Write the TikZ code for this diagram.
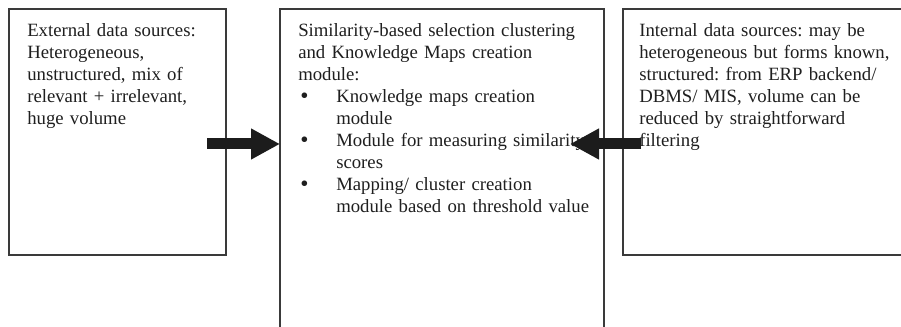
\documentclass[tikz,border=0pt]{standalone}
\usepackage{fontspec}
\setmainfont{Liberation Serif}
\usetikzlibrary{arrows.meta}
\definecolor{boxgray}{HTML}{3A3A3A}
\definecolor{arrowblack}{HTML}{1C1C1C}
\newcommand\mybullet{\makebox[28.5pt][l]{\hspace{1.5pt}\raisebox{-0.3pt}{\scalebox{1.25}{\textbullet}}}}
\frenchspacing
\begin{document}
\begin{tikzpicture}[x=0.75pt,y=-0.75pt,
  frame/.style={draw=boxgray, line width=0.9pt, anchor=north west, inner sep=0pt, outer sep=0pt},
  txt/.style={anchor=base west, inner sep=0pt, align=left, text=black!88,
              font=\fontsize{14.05}{16.5}\selectfont},
  blockarrow/.style={draw=arrowblack, line width=8.25pt,
              -{Triangle[length=21.75pt,width=21.75pt]}}]
\useasboundingbox (0,0) rectangle (901,327);
\clip (0,0) rectangle (901,327);
\fill[white] (0,0) rectangle (901,327);
% boxes
\node (ext) [frame, minimum width=162.75pt, minimum height=184.5pt] at (9,9) {};
\node (mid) [frame, minimum width=243pt, minimum height=250pt] at (280,9) {};
\node (int) [frame, minimum width=216pt, minimum height=184.5pt] at (623,9) {};
% texts
\node (extt) [txt, text width=170pt] at (27,37) {External data sources:\\
Heterogeneous,\\
unstructured, mix of\\
relevant + irrelevant,\\
huge volume};
\node (midt) [txt, text width=240pt] at (298,37) {Similarity-based selection clustering\\
and Knowledge Maps creation\\
module:\\
\mybullet Knowledge maps creation\\
\hspace*{28.5pt}module\\
\mybullet Module for measuring similarity\\
\hspace*{28.5pt}scores\\
\mybullet Mapping/ cluster creation\\
\hspace*{28.5pt}module based on threshold value};
\node (intt) [txt, text width=215pt] at (639,37) {Internal data sources: may be\\
heterogeneous but forms known,\\
structured: from ERP backend/\\
DBMS/ MIS, volume can be\\
reduced by straightforward\\
filtering};
% arrows
\coordinate (a1) at (207,144);
\coordinate (a2) at (641,144);
\coordinate (a2end) at (570,144);
\draw[blockarrow] (a1) -- (mid.west |- a1);
\draw[blockarrow] (a2) -- (a2end);
\end{tikzpicture}
\end{document}
